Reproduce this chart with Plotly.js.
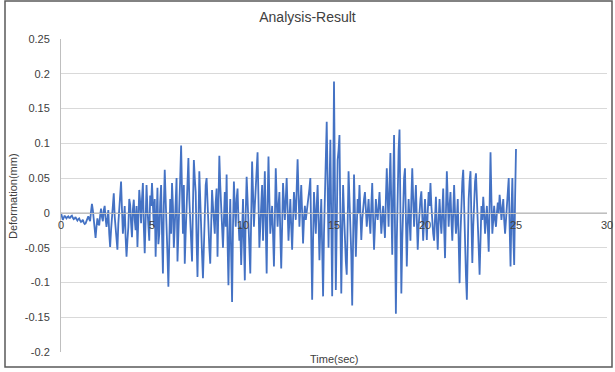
<!DOCTYPE html>
<html>
<head>
<meta charset="utf-8">
<script src="https://cdn.plot.ly/plotly-3.0.1.min.js"></script>
<style>
  html, body { margin: 0; padding: 0; background: #ffffff; }
  #chart { width: 615px; height: 372px; }
</style>
</head>
<body>
<div id="chart"></div>
<script>
// ---- data ----
const chartTitle = "Analysis-Result";
const xAxisTitle = "Time(sec)";
const yAxisTitle = "Deformation(mm)";
const startTime = 0;      // sec
const timeStep = 0.05;    // sec between samples
// Deformation (mm), one sample every 0.05 s from 0 to 25 s (one row per second)
const deformation = [
  0, -0.006, -0.01, -0.007, -0.004, -0.006, -0.008, -0.006, -0.005, -0.007, -0.007, -0.005, -0.004, -0.007, -0.009, -0.008, -0.006, -0.009, -0.011, -0.009,
  -0.008, -0.011, -0.013, -0.012, -0.01, -0.014, -0.016, -0.015, -0.012, -0.008, -0.005, -0.009, -0.012, 0.002, 0.013, 0.004, -0.01, -0.022, -0.036, -0.02,
  -0.008, -0.015, -0.018, -0.004, 0.006, -0.006, -0.012, 0.004, 0.01, -0.008, -0.02, -0.01, 0.004, -0.03, -0.049, -0.025, -0.01, 0.012, 0.028, -0.005,
  -0.02, -0.04, -0.053, -0.015, 0.012, 0.03, 0.045, 0.005, -0.03, -0.012, 0.01, -0.035, -0.063, -0.04, -0.02, 0.02, 0.012, -0.015, -0.035, 0.005,
  0.019, -0.01, -0.025, 0.01, -0.049, -0.01, 0.033, 0.015, -0.015, 0.02, 0.043, -0.02, -0.058, -0.01, 0.04, 0.005, -0.02, -0.04, 0.025, 0.01,
  0.043, 0.01, -0.02, 0.02, -0.063, -0.01, 0.036, -0.045, -0.03, 0.015, 0.04, -0.03, -0.087, 0.01, 0.062, 0.02, -0.04, -0.06, -0.106, -0.03,
  0.02, -0.03, 0.043, 0.01, -0.05, -0.02, 0.03, 0.05, -0.07, -0.04, 0.01, 0.05, 0.097, 0.03, -0.03, 0.04, -0.073, -0.03, 0.02, 0.055,
  0.079, 0.02, -0.02, -0.05, -0.07, 0.01, 0.076, 0.05, 0.03, -0.04, -0.092, -0.02, 0.06, 0.02, -0.04, -0.06, -0.094, -0.04, 0.02, 0.04,
  0.05, 0.01, -0.03, -0.05, -0.073, -0.02, 0.033, 0.01, -0.01, -0.03, 0.015, 0.035, -0.063, 0.02, 0.082, 0.04, 0.01, -0.02, -0.05, -0.01,
  0.03, -0.02, 0.055, -0.04, -0.104, -0.03, 0.02, -0.06, -0.128, -0.02, 0.045, 0.01, -0.02, 0.02, 0.035, -0.01, -0.04, -0.02, -0.075, -0.03,
  0.02, -0.04, -0.097, 0.0, 0.052, 0.02, -0.03, -0.05, -0.087, 0.01, 0.074, 0.03, -0.02, 0.01, 0.04, 0.06, 0.087, 0.02, -0.05, -0.02,
  0.02, 0.04, -0.04, 0.01, 0.06, -0.02, -0.087, 0.01, 0.081, 0.02, -0.03, -0.01, 0.01, -0.03, -0.077, -0.01, 0.064, 0.02, -0.02, 0.01,
  0.03, -0.03, -0.08, -0.02, 0.043, 0.015, -0.01, 0.02, 0.05, 0.005, -0.04, -0.01, 0.02, -0.02, -0.053, -0.01, 0.03, 0.01, -0.01, 0.035,
  0.077, 0.03, -0.02, 0.01, 0.04, 0.0, -0.044, -0.01, 0.01, -0.01, 0.0, 0.01, 0.02, 0.035, 0.05, -0.03, -0.125, -0.04, 0.03, 0.0,
  -0.03, 0.01, 0.04, -0.01, -0.068, -0.02, 0.02, -0.05, -0.12, -0.03, 0.03, 0.08, 0.131, 0.04, -0.05, 0.03, 0.105, -0.01, -0.12, 0.02,
  0.189, 0.04, -0.111, -0.02, 0.076, 0.09, 0.112, -0.01, -0.116, -0.03, 0.04, 0.0, -0.05, -0.07, -0.089, -0.01, 0.06, 0.02, -0.02, -0.06,
  -0.133, -0.04, 0.055, 0.0, -0.063, -0.02, 0.02, 0.0, 0.04, 0.0, -0.039, -0.01, 0.01, 0.02, 0.03, 0.0, -0.02, 0.0, 0.02, -0.01,
  -0.03, 0.01, 0.043, -0.01, -0.053, -0.02, 0.02, 0.0, -0.01, 0.01, 0.03, 0.0, -0.03, -0.01, 0.01, -0.015, -0.036, 0.02, 0.064, 0.02,
  -0.02, 0.04, 0.086, 0.01, -0.06, 0.03, 0.112, -0.02, -0.145, -0.04, 0.05, 0.09, 0.12, 0.0, -0.116, -0.04, 0.03, 0.05, 0.064, -0.01,
  -0.077, -0.02, 0.02, -0.01, -0.04, 0.02, 0.064, 0.02, -0.02, 0.01, 0.04, -0.01, -0.053, -0.02, 0.01, 0.02, 0.031, -0.01, -0.04, -0.01,
  0.02, -0.01, -0.039, 0.0, 0.03, 0.01, 0.043, 0.01, -0.02, -0.03, -0.04, -0.01, 0.023, -0.02, -0.053, -0.01, 0.02, -0.01, -0.03, 0.0,
  0.035, -0.02, -0.065, 0.0, 0.06, 0.02, -0.02, 0.01, 0.03, -0.01, -0.04, 0.0, 0.04, 0.0, -0.03, -0.01, 0.02, -0.04, -0.101, -0.03,
  0.03, 0.045, 0.062, 0.0, -0.05, -0.09, -0.125, -0.04, 0.02, 0.045, 0.06, -0.01, -0.072, -0.02, 0.03, 0.045, 0.057, 0.01, -0.02, -0.05,
  -0.089, -0.03, 0.01, -0.01, 0.023, 0.0, -0.03, -0.01, 0.01, -0.02, -0.056, 0.01, 0.087, 0.02, -0.03, -0.01, 0.01, -0.01, -0.02, 0.0,
  0.015, 0.0, 0.026, 0.01, -0.01, 0.005, 0.02, -0.01, -0.03, -0.01, 0.01, 0.03, 0.05, -0.02, -0.077, 0.0, 0.05, -0.03, -0.075, 0.02,
  0.092
];
const xTickVals = [0, 5, 10, 15, 20, 25, 30];
const xTickText = ["0", "5", "10", "15", "20", "25", "30"];
const yTickVals = [0.25, 0.2, 0.15, 0.1, 0.05, 0, -0.05, -0.1, -0.15, -0.2];
const yTickText = ["0.25", "0.2", "0.15", "0.1", "0.05", "0", "-0.05", "-0.1", "-0.15", "-0.2"];
const xRange = [0, 30];
const yRange = [-0.2, 0.25];

// ---- chart ----
const fontFam = "Liberation Sans, Arial, sans-serif";
const trace = {
  type: "scatter",
  mode: "lines",
  y: deformation,
  x0: startTime,
  dx: timeStep,
  line: { color: "#4472C4", width: 1.8 },
  hoverinfo: "skip"
};

// fraction of the plot height where y = 0 sits (x axis crosses there)
const zeroPos = (0 - yRange[0]) / (yRange[1] - yRange[0]);

const layout = {
  width: 615,
  height: 372,
  paper_bgcolor: "#ffffff",
  plot_bgcolor: "#ffffff",
  margin: { l: 61, r: 8, t: 39, b: 20, pad: 0 },
  showlegend: false,
  font: { family: fontFam, color: "#595959", size: 11 },
  title: {
    text: chartTitle,
    font: { family: fontFam, size: 14, color: "#404040" },
    x: 0.5, xref: "container", xanchor: "center",
    y: 1 - 17 / 372, yref: "container", yanchor: "middle"
  },
  xaxis: {
    range: xRange,
    tickvals: xTickVals,
    ticktext: xTickText,
    anchor: "free",
    position: zeroPos,
    showgrid: false,
    zeroline: false,
    showline: true,
    linecolor: "#bfbfbf",
    linewidth: 1,
    ticks: "",
    ticklabelstandoff: 2,
    tickfont: { family: fontFam, size: 11, color: "#404040" },
    layer: "above traces",
    fixedrange: true
  },
  yaxis: {
    range: yRange,
    tickvals: yTickVals,
    ticktext: yTickText,
    showgrid: true,
    gridcolor: "#d9d9d9",
    gridwidth: 1,
    zeroline: false,
    showline: true,
    linecolor: "#bfbfbf",
    linewidth: 1,
    ticks: "",
    ticklabelstandoff: 8,
    tickfont: { family: fontFam, size: 11, color: "#404040" },
    fixedrange: true
  },
  annotations: [
    {
      text: xAxisTitle,
      xref: "paper", yref: "paper",
      x: (334 - 61) / 546, y: (352 - 359) / 313,
      xanchor: "center", yanchor: "middle",
      showarrow: false,
      font: { family: fontFam, size: 11, color: "#404040" }
    },
    {
      text: yAxisTitle,
      xref: "paper", yref: "paper",
      x: (13 - 61) / 546, y: (352 - 196) / 313,
      xanchor: "center", yanchor: "middle",
      textangle: -90,
      showarrow: false,
      font: { family: fontFam, size: 11, color: "#404040" }
    }
  ],
  shapes: [
    {
      type: "rect",
      xref: "paper", yref: "paper",
      x0: (5 - 61) / 546, x1: (612 - 61) / 546,
      y0: (352 - 367) / 313, y1: (352 - 1) / 313,
      line: { color: "#5a5a5a", width: 1.5 },
      fillcolor: "rgba(0,0,0,0)",
      layer: "below"
    }
  ]
};

Plotly.newPlot("chart", [trace], layout, { staticPlot: true, displayModeBar: false });
</script>
</body>
</html>
